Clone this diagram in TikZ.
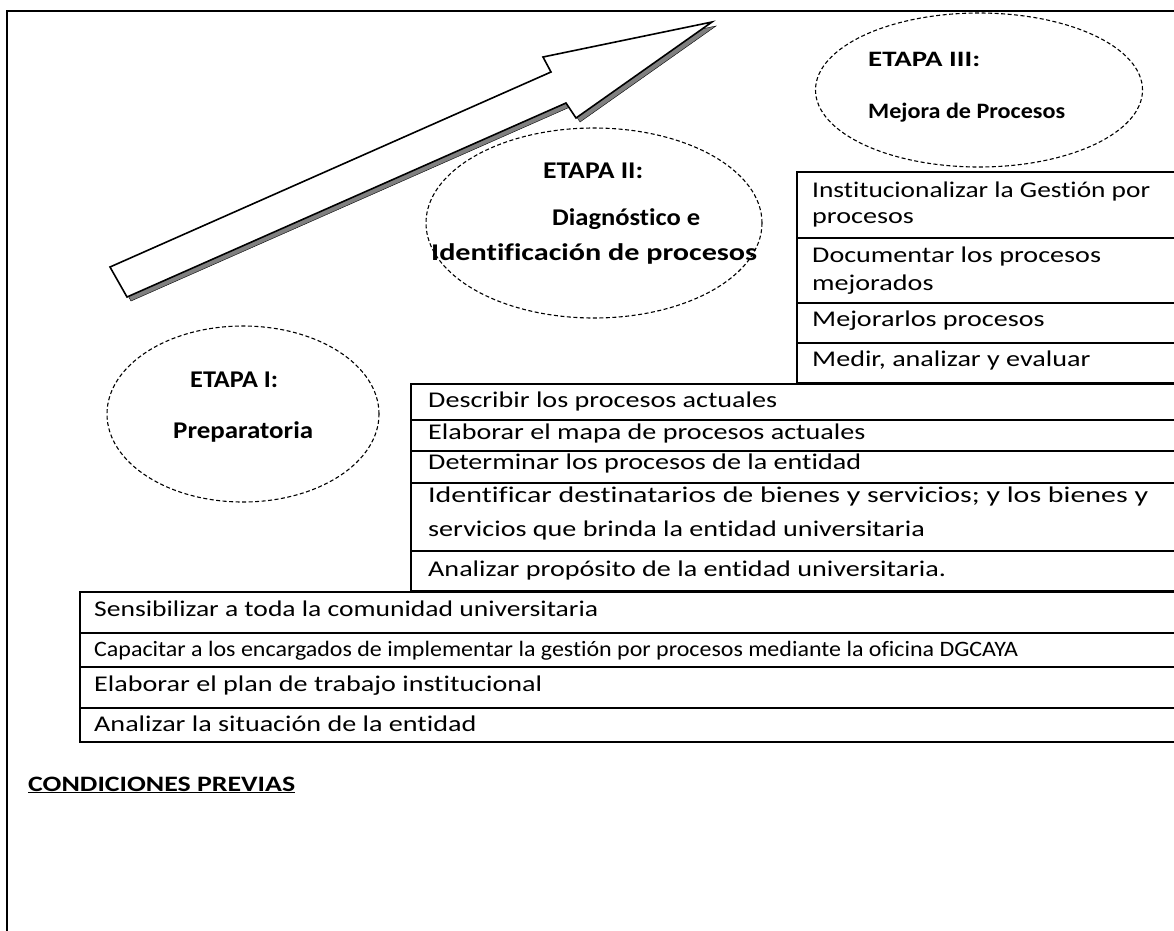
\documentclass[tikz,border=0pt]{standalone}
\usepackage{graphicx}
\usepackage{fontspec}
\setmainfont[Ligatures=NoCommon]{Carlito}
\usetikzlibrary{shapes.geometric}
\newcommand{\tb}[1]{\scalebox{1.25}[1]{#1}}
\newcommand{\fw}[2]{\resizebox{#1pt}{\height}{#2}}
\begin{document}
\begin{tikzpicture}[x=1pt,y=-1pt,
  rowbox/.style={draw, line width=1.8pt, anchor=north west, inner sep=0pt, outer sep=0pt},
  txt/.style={anchor=base west, inner sep=0pt, font=\fontsize{22.5}{22.5}\selectfont},
  etxt/.style={anchor=base west, inner sep=0pt, font=\bfseries\fontsize{24}{24}\selectfont},
  stage/.style={ellipse, draw, dash pattern=on 4pt off 2.5pt, line width=1.1pt, inner sep=0pt},
  arrowbody/.style={draw, line width=1.6pt, fill=white, line join=miter},
  arrowshadow/.style={fill=black!50}
]
\useasboundingbox (0,0) rectangle (1174,930);
\clip (0,0) rectangle (1174,930);
% outer frame
\draw[line width=1.6pt] (7,960) -- (7,11) -- (1200,11);

% big arrow
\draw[arrowshadow, shift={(4,4)}] (110,267) -- (551,72) -- (543,57) -- (712,22) -- (576,118) -- (566,103) -- (127,297) -- cycle;
\draw[arrowbody] (110,267) -- (551,72) -- (543,57) -- (712,22) -- (576,118) -- (566,103) -- (127,297) -- cycle;

% stage ellipses
\node[stage, minimum width=272pt, minimum height=176pt] (e1) at (243,414) {};
\node[stage, minimum width=336pt, minimum height=190pt] (e2) at (594,223) {};
\node[stage, minimum width=327pt, minimum height=154pt] (e3) at (979,90) {};

\node[etxt] (e1a) at (190,387) {\fw{88}{ETAPA I:}};
\node[etxt] (e1b) at (173,438) {\fw{140}{Preparatoria}};
\node[etxt] (e2a) at (543,178) {\fw{100}{ETAPA II:}};
\node[etxt] (e2b) at (552,225) {\fw{148}{Diagnóstico e}};
\node[etxt] (e2c) at (431,260) {\fw{326}{Identificación de procesos}};
\node[etxt, font=\bfseries\fontsize{22}{22}\selectfont] (e3a) at (868,66) {\fw{112}{ETAPA III:}};
\node[etxt, font=\bfseries\fontsize{22}{22}\selectfont] (e3b) at (868,118) {\fw{197}{Mejora de Procesos}};

% table stage III
\node[rowbox, minimum width=420pt, minimum height=66pt] (r3a) at (797,172) {};
\node[rowbox, minimum width=420pt, minimum height=65pt] (r3b) at (797,238) {};
\node[rowbox, minimum width=420pt, minimum height=40pt] (r3c) at (797,303) {};
\node[rowbox, minimum width=420pt, minimum height=40pt] (r3d) at (797,343) {};
\node[txt] (s3a1) at (812,197) {\fw{338}{Institucionalizar la Gestión por}};
\node[txt] (s3a2) at (812,223) {\tb{procesos}};
\node[txt] (s3b1) at (812,262) {\tb{Documentar los procesos}};
\node[txt] (s3b2) at (812,290) {\tb{mejorados}};
\node[txt] (s3c) at (812,326) {\tb{Mejorarlos procesos}};
\node[txt] (s3d) at (812,366) {\tb{Medir, analizar y evaluar}};

% table stage II
\node[rowbox, minimum width=800pt, minimum height=36pt] (r2a) at (411,384) {};
\node[rowbox, minimum width=800pt, minimum height=31pt] (r2b) at (411,420) {};
\node[rowbox, minimum width=800pt, minimum height=32pt] (r2c) at (411,451) {};
\node[rowbox, minimum width=800pt, minimum height=68pt] (r2d) at (411,483) {};
\node[rowbox, minimum width=800pt, minimum height=40pt] (r2e) at (411,551) {};
\node[txt] (s2a) at (428,407.5) {\tb{Describir los procesos actuales}};
\node[txt] (s2b) at (428,439) {\tb{Elaborar el mapa de procesos actuales}};
\node[txt] (s2c) at (428,469.5) {\tb{Determinar los procesos de la entidad}};
\node[txt] (s2d1) at (428,502.5) {\fw{720}{Identificar destinatarios de bienes y servicios; y los bienes y}};
\node[txt] (s2d2) at (428,536) {\tb{servicios que brinda la entidad universitaria}};
\node[txt] (s2e) at (428,576) {\tb{Analizar propósito de la entidad universitaria.}};

% table stage I
\node[rowbox, minimum width=1150pt, minimum height=41pt] (r1a) at (80,592) {};
\node[rowbox, minimum width=1150pt, minimum height=34pt] (r1b) at (80,633) {};
\node[rowbox, minimum width=1150pt, minimum height=41pt] (r1c) at (80,667) {};
\node[rowbox, minimum width=1150pt, minimum height=34pt] (r1d) at (80,708) {};
\node[txt] (s1a) at (94,616) {\fw{504}{Sensibilizar a toda la comunidad universitaria}};
\node[txt, font=\fontsize{22}{22}\selectfont] (s1b) at (94,656) {\fw{924}{Capacitar a los encargados de implementar la gestión por procesos mediante la oficina DGCAYA}};
\node[txt] (s1c) at (94,691) {\tb{Elaborar el plan de trabajo institucional}};
\node[txt] (s1d) at (94,731.5) {\tb{Analizar la situación de la entidad}};

% heading
\node[etxt, font=\bfseries\fontsize{22}{22}\selectfont] (cond) at (28,791) {\fw{267}{\underline{CONDICIONES PREVIAS}}};
\end{tikzpicture}
\end{document}
